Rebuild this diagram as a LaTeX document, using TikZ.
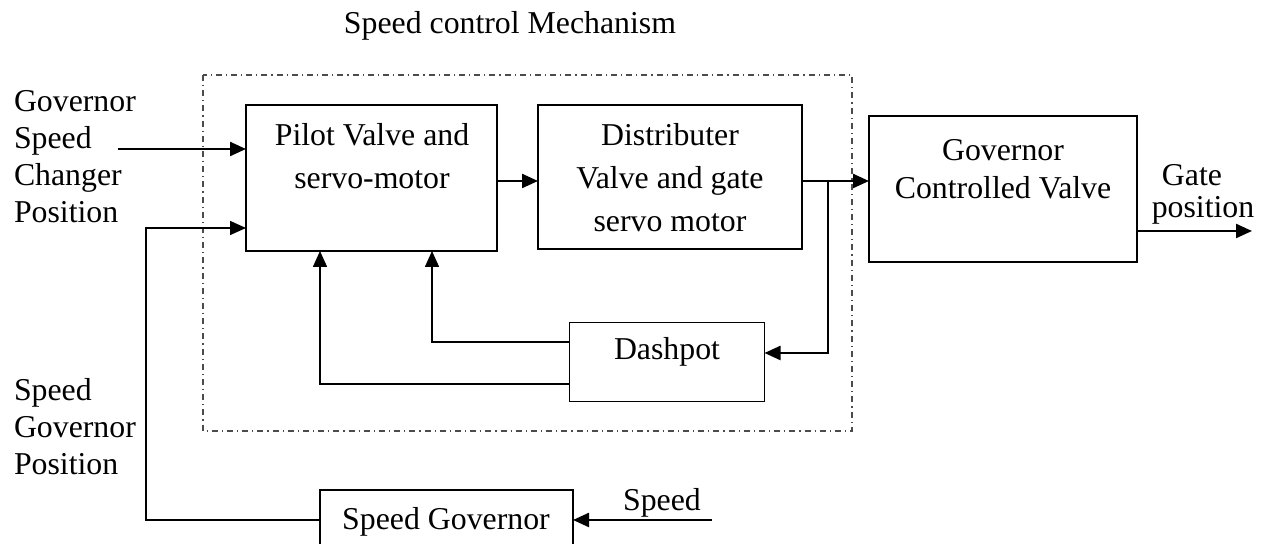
\documentclass[tikz,border=0pt]{standalone}
\usepackage{fontspec}
\setmainfont{Liberation Serif}
\usetikzlibrary{arrows.meta,calc}

\begin{document}
\begin{tikzpicture}[x=0.5pt,y=-0.5pt,
  blk/.style={draw,line width=0.8pt,inner sep=0pt,outer sep=0pt},
  txt/.style={inner sep=0pt,outer sep=0pt,align=center,font=\fontsize{15.9}{21.5}\selectfont},
  lbl/.style={inner sep=0pt,outer sep=0pt,align=left,font=\fontsize{15.9}{18.5}\selectfont},
  arr/.style={line width=1.15pt,-{Triangle[length=8pt,width=7pt]}},
  fb/.style={line width=0.8pt,-{Triangle[length=8pt,width=7pt]}},
  frame/.style={draw=black!70,line width=0.6pt,dash pattern=on 3pt off 2pt on 0.6pt off 2pt}]
\useasboundingbox (0,0) rectangle (1265,544);
\clip (0,0) rectangle (1265,544);

% speed control mechanism enclosure
\draw[frame] (203,75) rectangle (852,431);
\node[lbl] (title) at (510,26) {Speed control Mechanism};

% blocks
\node[blk,minimum width=125.5pt,minimum height=73pt] (pilot) at (371.5,178) {};
\node[blk,minimum width=132pt,minimum height=72pt] (dist) at (670,177) {};
\node[blk,minimum width=134pt,minimum height=73pt] (gcv) at (1003,189) {};
\node[blk,minimum width=97.5pt,minimum height=39.5pt] (dash) at (667,362) {};
\node[blk,minimum width=126.5pt,minimum height=30pt] (sg) at (446.5,520) {};

% block texts
\node[txt] (tpilot) at (372,156) {Pilot Valve and\\servo-motor};
\node[txt] (tdist) at (670,178) {Distributer\\Valve and gate\\servo motor};
\node[txt,font=\fontsize{15.9}{19}\selectfont] (tgcv) at (1003,169) {Governor\\Controlled Valve};
\node[txt] (tdash) at (667,352) {Dashpot};
\node[txt] (tsg) at (446,522) {Speed Governor};

% side labels
\node[lbl,anchor=west] (lgsc) at (14,157) {Governor\\Speed\\Changer\\Position};
\node[lbl,anchor=west] (lsgp) at (14,427) {Speed\\Governor\\Position};
\node[lbl] (lgate) at (1192,175) {Gate};
\node[lbl] (lpos) at (1203,210) {position};
\node[lbl] (lspeed) at (662,503) {Speed};

% reference points of the connectors
\coordinate (gscin) at (118,149);
\coordinate (fbk) at (146,228);
\coordinate (out) at (828,181);
\coordinate (fa) at (432,0);
\coordinate (fb2) at (320,0);
\coordinate (gateend) at (1252,231);
\coordinate (speedin) at (712,520);

% connectors
\draw[arr] (gscin) -- (gscin -| pilot.west);
\draw[fb] (sg.west) -| (fbk) -- (fbk -| pilot.west);
\draw[arr] (pilot.east |- out) -- (dist.west |- out);
\draw[arr] (dist.east |- out) -- (gcv.west |- out);
\draw[arr] (out) |- ([yshift=4.5pt]dash.east);
\draw[fb] (dash.west |- 0,342) -| (fa |- pilot.south);
\draw[fb] (dash.west |- 0,384) -| (fb2 |- pilot.south);
\draw[arr] (gcv.east |- gateend) -- (gateend);
\draw[arr] (speedin) -- (sg.east);
\end{tikzpicture}
\end{document}
